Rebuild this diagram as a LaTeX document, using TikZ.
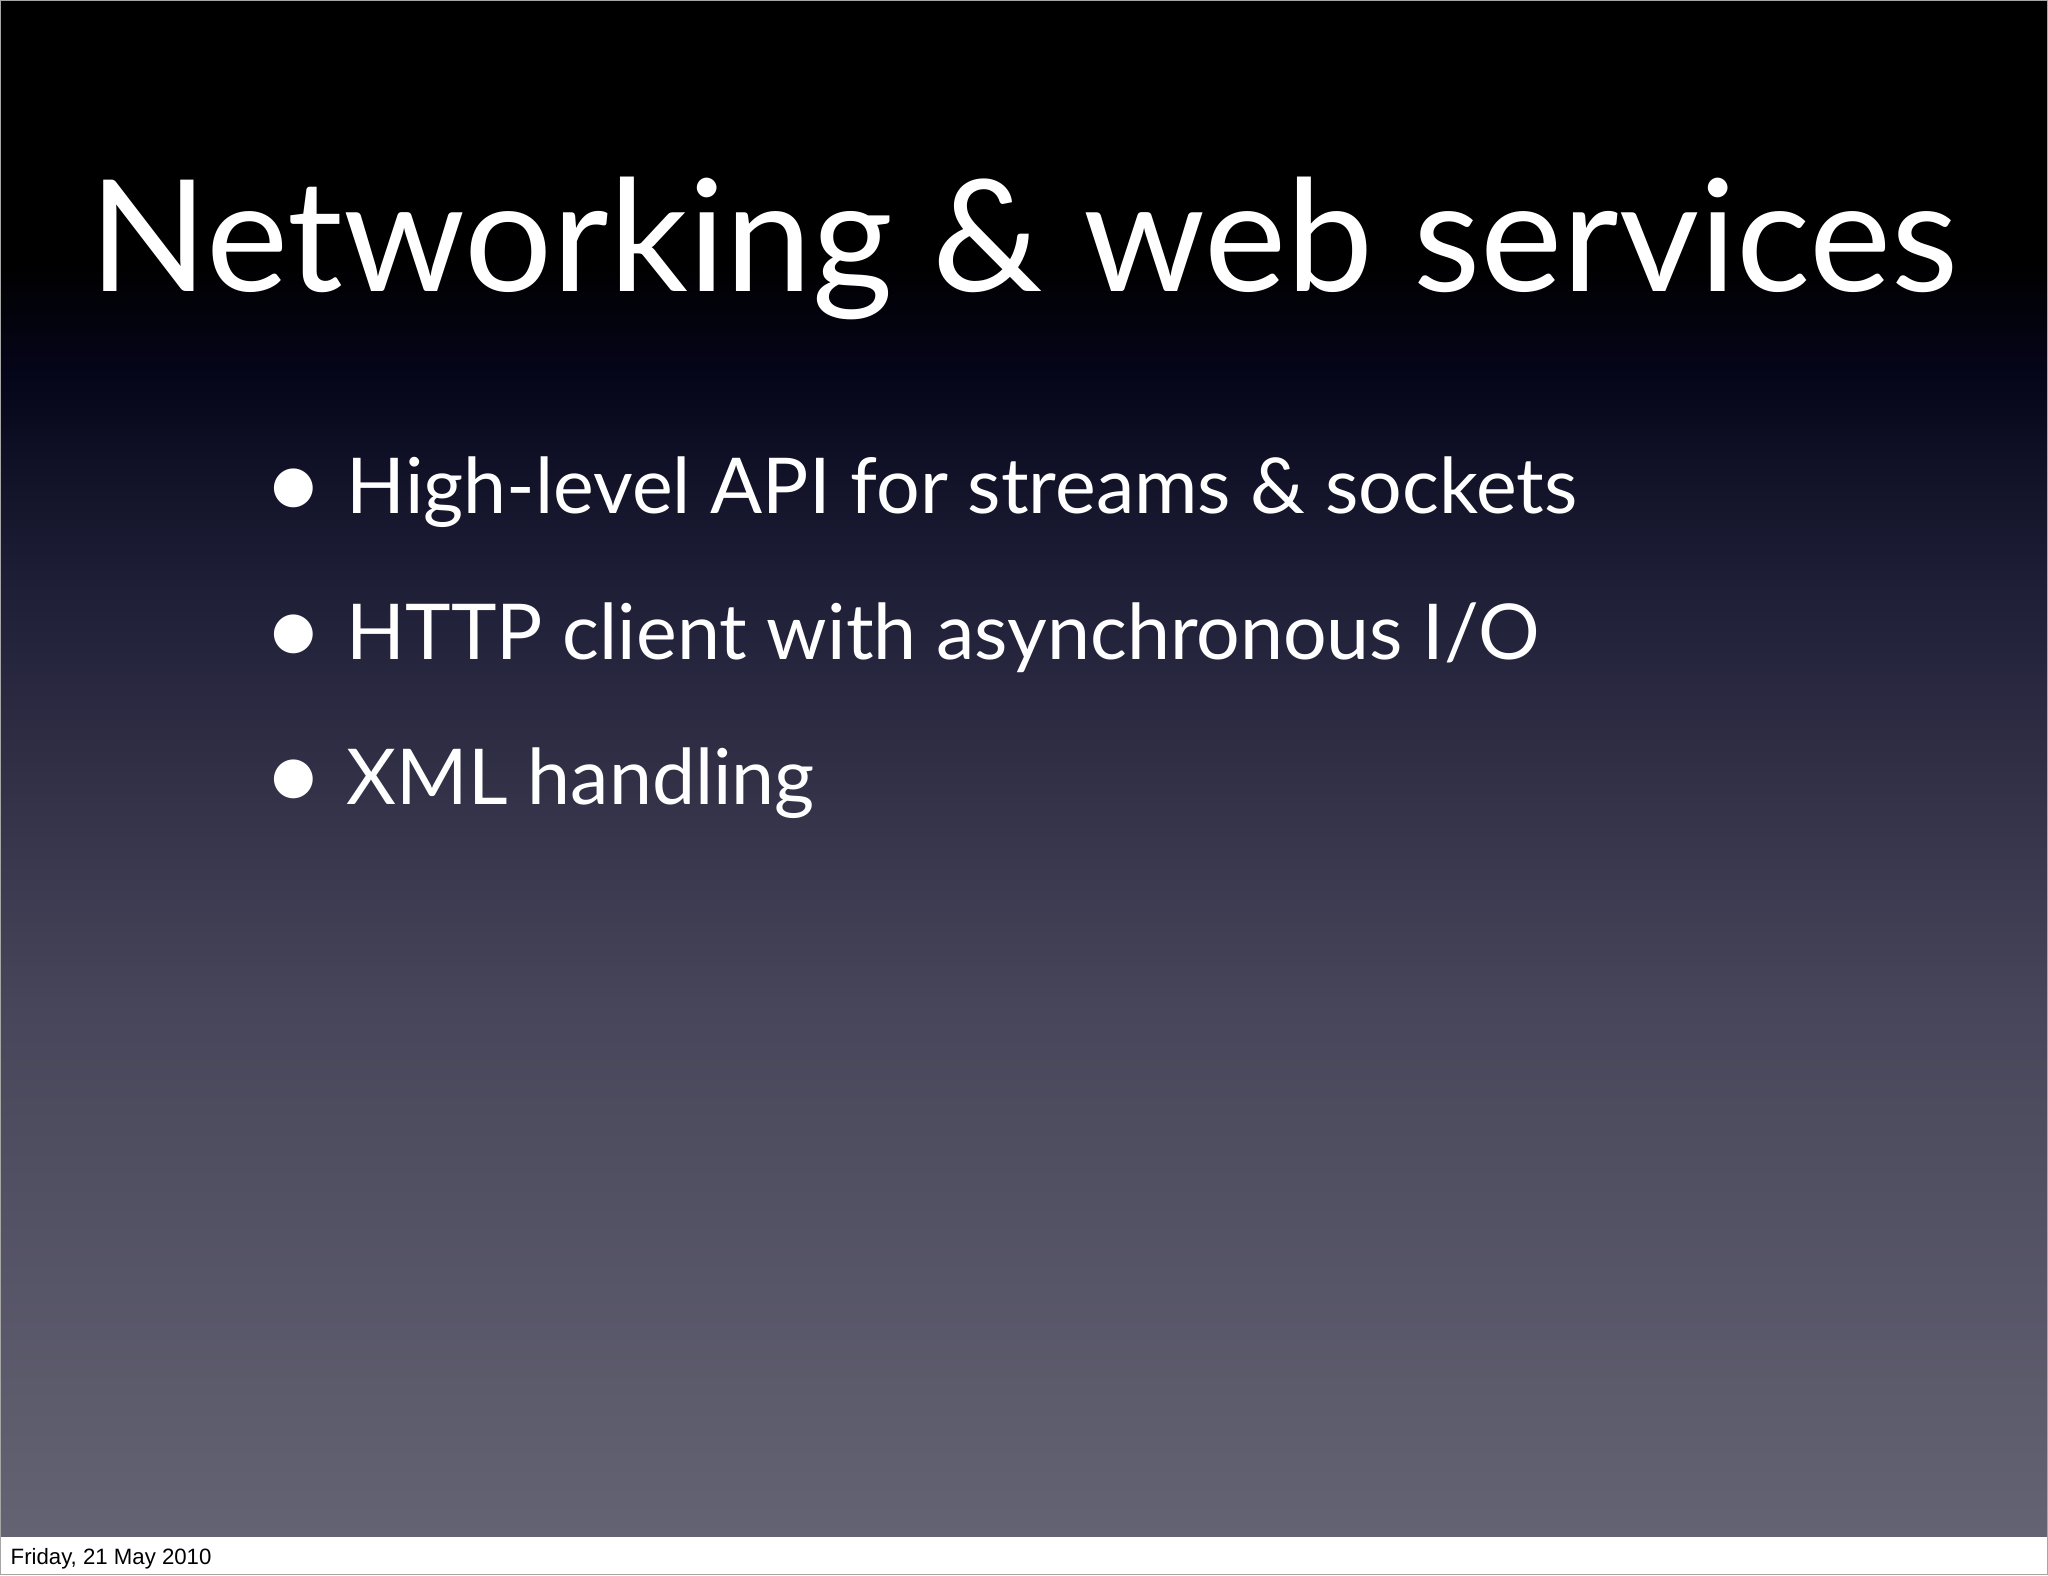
\documentclass[tikz,border=0pt]{standalone}
\usepackage{fontspec}
\setmainfont{Lato}
\newfontfamily\footfont{Liberation Sans}
\pgfdeclareverticalshading{slidebg}{100bp}{
 color(0bp)=(rgb,255:red,100;green,99;blue,115);
 color(25bp)=(rgb,255:red,100;green,99;blue,115);
 color(42bp)=(rgb,255:red,72;green,70;blue,90);
 color(56bp)=(rgb,255:red,30;green,30;blue,55);
 color(63bp)=(rgb,255:red,5;green,5;blue,25);
 color(66.5bp)=(rgb,255:red,0;green,0;blue,0);
 color(100bp)=(rgb,255:red,0;green,0;blue,0)}
\begin{document}
\begin{tikzpicture}[x=1pt,y=-1pt,
 bullet/.style={anchor=base west,text=white,font=\fontsize{59}{61}\selectfont}]
\useasboundingbox (0,0) rectangle (1568,1206);
\fill[white] (0,0) rectangle (1568,1206);
\shade[shading=slidebg] (0,0) rectangle (1568,1176);
\draw[gray!70,line width=1pt] (0.5,0.5) rectangle (1567.5,1205.5);
\node[anchor=base,text=white,font=\fontsize{119}{121}\selectfont] (title) at (784,223) {Networking \& web services};
\node[bullet] (b1) at (198,393) {{\fontsize{80}{80}\selectfont\raisebox{-0.06em}{\textbullet}}\hspace{0.3em}High-level API for streams \& sockets};
\node[bullet] (b2) at (198,505) {{\fontsize{80}{80}\selectfont\raisebox{-0.06em}{\textbullet}}\hspace{0.3em}HTTP client with asynchronous I/O};
\node[bullet] (b3) at (198,616) {{\fontsize{80}{80}\selectfont\raisebox{-0.06em}{\textbullet}}\hspace{0.3em}XML handling};
\node[anchor=base west,font=\footfont\fontsize{17}{18}\selectfont,inner sep=0pt] (foot) at (8,1198) {Friday, 21 May 2010};
\end{tikzpicture}
\end{document}
